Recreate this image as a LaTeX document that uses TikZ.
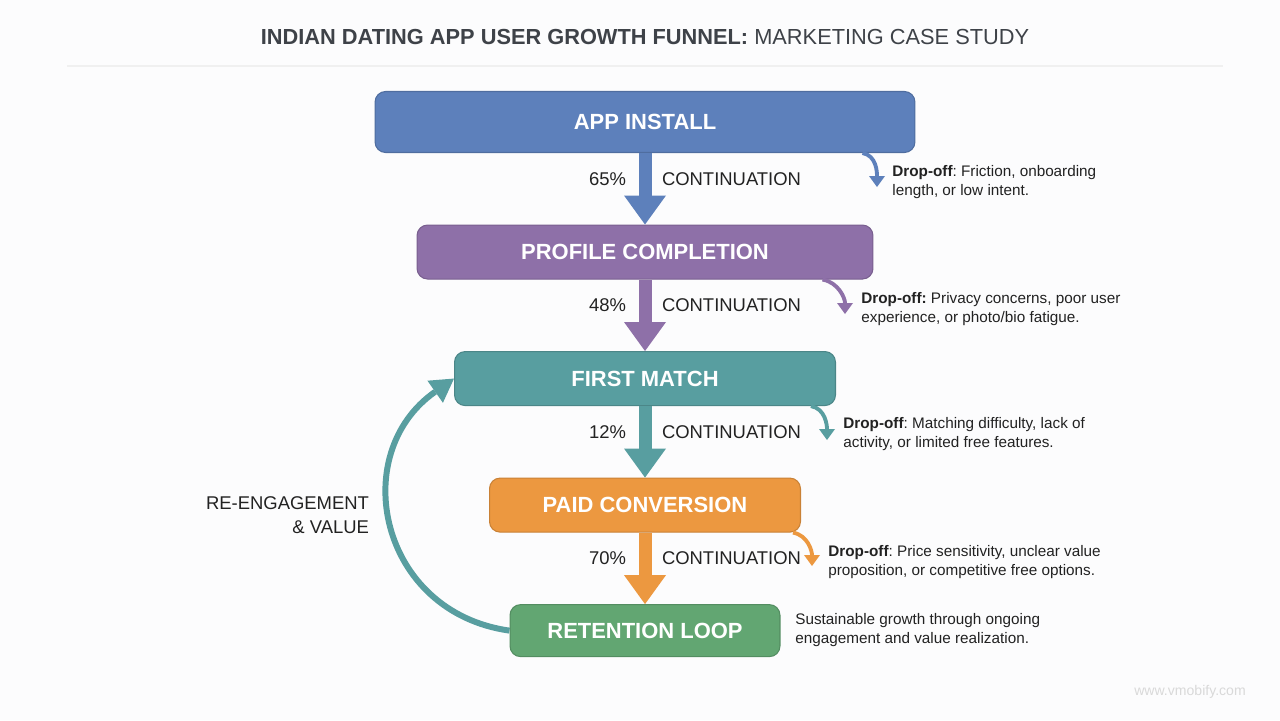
\documentclass[tikz,border=0pt]{standalone}
\usepackage{fontspec}
\setmainfont{Liberation Sans}
\usetikzlibrary{arrows.meta,positioning,calc}
\definecolor{installblue}{RGB}{93,128,187}
\definecolor{profilepurple}{RGB}{142,112,168}
\definecolor{matchteal}{RGB}{88,158,160}
\definecolor{paidorange}{RGB}{236,152,64}
\definecolor{retaingreen}{RGB}{98,166,114}
\definecolor{inkgrey}{RGB}{34,34,34}
\definecolor{titlegrey}{RGB}{62,66,72}
\definecolor{paper}{RGB}{252,252,253}
\tikzset{
  stagebox/.style={draw, rounded corners=6pt, line width=0.6pt, text=white,
    font=\fontsize{12.5}{15}\selectfont\bfseries, align=center},
  flow/.style={line width=0.26cm,
    -{Triangle[width=0.84cm,length=0.58cm,line width=0pt]}},
  droparr/.style={line width=2.2pt,
    -{Triangle[width=0.32cm,length=0.22cm,line width=0pt]}},
  loopback/.style={line width=3.4pt,
    -{Triangle[width=0.54cm,length=0.46cm,line width=0pt]}},
  pctlabel/.style={font=\fontsize{10.5}{13.7}\selectfont, text=inkgrey,
    inner sep=0pt, outer sep=0pt},
  droptext/.style={font=\fontsize{8.7}{10.8}\selectfont, text=inkgrey,
    align=left, anchor=west, inner sep=0pt},
}
\frenchspacing

\begin{document}
\begin{tikzpicture}[x=0.02cm, y=-0.02cm, node distance=1.43cm]
  \fill[paper] (0,0) rectangle (1280,720);
  \useasboundingbox (0,0) rectangle (1280,720);

  % Title and rule
  \node[font=\fontsize{12.4}{15}\selectfont, text=titlegrey] (title) at (645,37)
    {\textbf{INDIAN DATING APP USER GROWTH FUNNEL:} MARKETING CASE STUDY};
  \draw[gray!12, line width=1pt] (67,66) -- (1223,66);

  % Funnel stages
  \node[stagebox, fill=installblue, draw=installblue!85!black,
        minimum width=10.8cm, minimum height=1.22cm] (app) at (645,122) {APP INSTALL};
  \node[stagebox, fill=profilepurple, draw=profilepurple!85!black,
        minimum width=9.12cm, minimum height=1.08cm, below=of app] (prof) {PROFILE COMPLETION};
  \node[stagebox, fill=matchteal, draw=matchteal!85!black,
        minimum width=7.62cm, minimum height=1.08cm, below=of prof] (fm) {FIRST MATCH};
  \node[stagebox, fill=paidorange, draw=paidorange!85!black,
        minimum width=6.22cm, minimum height=1.08cm, below=of fm] (paid) {PAID CONVERSION};
  \node[stagebox, fill=retaingreen, draw=retaingreen!85!black,
        minimum width=5.4cm, minimum height=1.04cm, below=of paid] (ret) {RETENTION LOOP};

  % Continuation arrows
  \foreach \s/\t/\c/\p in {app/prof/installblue/65, prof/fm/profilepurple/48,
                           fm/paid/matchteal/12, paid/ret/paidorange/70} {
    \draw[flow, \c] (\s) --
      node[pctlabel, pos=0.36, left=0.38cm] {\p\%}
      node[pctlabel, pos=0.36, right=0.34cm] {CONTINUATION} (\t);
  }

  % Drop-off notes
  \node[droptext] (dropA) at (892,182)
    {\textbf{Drop-off}: Friction, onboarding\\length, or low intent.};
  \node[droptext] (dropB) at (861,309)
    {\textbf{Drop-off:} Privacy concerns, poor user\\experience, or photo/bio fatigue.};
  \node[droptext] (dropC) at (843,434)
    {\textbf{Drop-off}: Matching difficulty, lack of\\activity, or limited free features.};
  \node[droptext] (dropD) at (828,562)
    {\textbf{Drop-off}: Price sensitivity, unclear value\\proposition, or competitive free options.};
  \node[droptext] (sustain) at (795,630)
    {Sustainable growth through ongoing\\engagement and value realization.};

  \coordinate (tipA) at ($(dropA.west)+(-15,5)$);
  \coordinate (tipB) at ($(dropB.west)+(-16,5)$);
  \coordinate (tipC) at ($(dropC.west)+(-16,6)$);
  \coordinate (tipD) at ($(dropD.west)+(-16,4)$);

  \draw[droparr, installblue] ([xshift=-1.06cm]app.south east) to[out=-10, in=90] (tipA);
  \draw[droparr, profilepurple] ([xshift=-1.02cm]prof.south east) to[out=-10, in=90] (tipB);
  \draw[droparr, matchteal] ([xshift=-0.5cm]fm.south east) to[out=-10, in=90] (tipC);
  \draw[droparr, paidorange] ([xshift=-0.16cm]paid.south east) to[out=-10, in=90] (tipD);

  % Re-engagement loop
  \draw[loopback, matchteal] (ret.west) to[out=172, in=215, looseness=1.3] (fm.west);
  \node[pctlabel, align=right, anchor=east] (reeng) at (369,515) {RE-ENGAGEMENT\\\& VALUE};

  % Watermark
  \node[font=\fontsize{8}{9}\selectfont, text=gray!30] (mark) at (1190,692) {www.vmobify.com};
\end{tikzpicture}
\end{document}
